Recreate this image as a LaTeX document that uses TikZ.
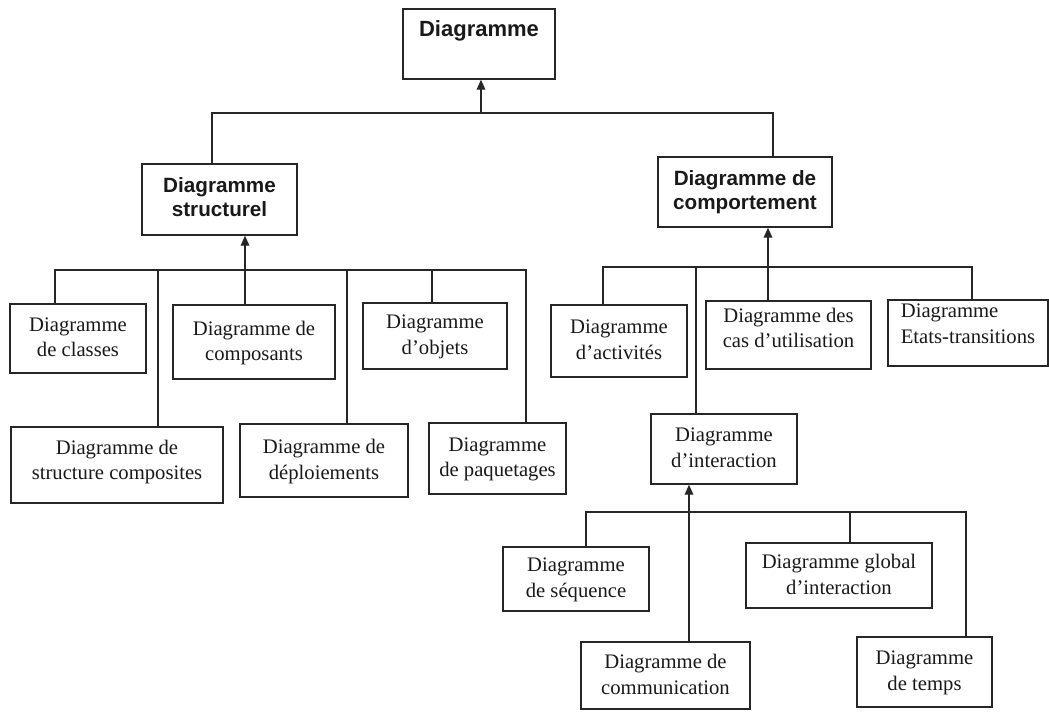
\documentclass[tikz,border=0pt]{standalone}
\usepackage{fontspec}
\setmainfont{Liberation Serif}
\newfontfamily\headfont{Liberation Sans}
\usetikzlibrary{arrows.meta}

% \umlbox[style]{name}{x1}{y1}{x2}{y2}{text}: a box given by its corners (px, y downwards)
\newcommand{\umlbox}[7][box]{%
  \node[#1, minimum width={(#5-#3)*0.75pt}, minimum height={(#6-#4)*0.75pt}]
    (#2) at ({(#3+#5)/2},{(#4+#6)/2}) {#7};}

\begin{document}
\begin{tikzpicture}[x=0.75pt, y=-0.75pt,
  box/.style={draw=black!85, line width=1.1pt, inner sep=0pt, align=center,
    text=black!90, font=\fontsize{15.5}{19}\selectfont, text depth=2pt},
  headbox/.style={box, font=\headfont\bfseries\fontsize{15.5}{18}\selectfont,
    text depth=3.5pt},
  link/.style={draw=black!85, line width=1pt},
  uparrow/.style={link, -{Triangle[length=7.5pt, width=6.5pt]}},
]
\useasboundingbox (0,0) rectangle (1049,711);

% ---- top level
\umlbox[headbox, font=\headfont\bfseries\fontsize{16.5}{19}\selectfont, text depth=23.5pt]{top}{403}{9}{555}{79}{Diagramme}
\umlbox[headbox]{struct}{142}{164}{297}{235}{Diagramme\\structurel}
\umlbox[headbox]{comp}{658}{157}{832}{227}{Diagramme de\\comportement}

% ---- structural diagrams
\umlbox{classes}{10}{304}{146}{373}{Diagramme\\de classes}
\umlbox{compo}{173}{305}{335}{379}{Diagramme de\\composants}
\umlbox{objets}{363}{303}{507}{369}{Diagramme\\d’objets}
\umlbox[box, text depth=8pt]{composites}{11}{427}{223}{503}{Diagramme de\\structure composites}
\umlbox{deploy}{240}{424}{408}{497}{Diagramme de\\déploiements}
\umlbox{paquet}{429}{423}{566}{494}{Diagramme\\de paquetages}

% ---- behavioural diagrams
\umlbox{activ}{551}{305}{687}{377}{Diagramme\\d’activités}
\umlbox[box, text depth=11pt]{cas}{706}{301}{871}{369}{Diagramme des\\cas d’utilisation}
\umlbox[box, align=left, text depth=14pt]{etats}{888}{300}{1048}{366}{Diagramme\\Etats-transitions}
\umlbox{inter}{651}{414}{797}{484}{Diagramme\\d’interaction}

% ---- interaction diagrams
\umlbox{seq}{503}{547}{649}{611}{Diagramme\\de séquence}
\umlbox{global}{746}{543}{932}{608}{Diagramme global\\d’interaction}
\umlbox{commu}{581}{642}{750}{709}{Diagramme de\\communication}
\umlbox{temps}{857}{637}{992}{707}{Diagramme\\de temps}

% ---- bus junctions
\coordinate (tb0) at (481,113);
\coordinate (tbL) at (212,113);
\coordinate (tbR) at (773,113);

\coordinate (sb1) at (55,270);
\coordinate (sb2) at (158,270);
\coordinate (sb3) at (245,270);
\coordinate (sb4) at (347,270);
\coordinate (sb5) at (432,270);
\coordinate (sb6) at (526,270);

\coordinate (cb1) at (603,267);
\coordinate (cb2) at (696,267);
\coordinate (cb3) at (768,267);
\coordinate (cb4) at (972,267);

\coordinate (ib1) at (586,512);
\coordinate (ib2) at (689,512);
\coordinate (ib3) at (850,512);
\coordinate (ib4) at (966,512);

% ---- top level connectors
\draw[link] (struct.north -| tbL) -- (tbL) -- (tbR) -- (comp.north -| tbR);
\draw[uparrow] (tb0) -- (top.south -| tb0);

% ---- structural connectors
\draw[link] (classes.north -| sb1) -- (sb1) -- (sb6) -- (paquet.north -| sb6);
\draw[link] (composites.north -| sb2) -- (sb2);
\draw[uparrow] (compo.north -| sb3) -- (struct.south -| sb3);
\draw[link] (deploy.north -| sb4) -- (sb4);
\draw[link] (objets.north -| sb5) -- (sb5);

% ---- behavioural connectors
\draw[link] (activ.north -| cb1) -- (cb1) -- (cb4) -- (etats.north -| cb4);
\draw[link] (inter.north -| cb2) -- (cb2);
\draw[uparrow] (cas.north -| cb3) -- (comp.south -| cb3);

% ---- interaction connectors
\draw[link] (seq.north -| ib1) -- (ib1) -- (ib4) -- (temps.north -| ib4);
\draw[uparrow] (commu.north -| ib2) -- (inter.south -| ib2);
\draw[link] (global.north -| ib3) -- (ib3);
\end{tikzpicture}
\end{document}
